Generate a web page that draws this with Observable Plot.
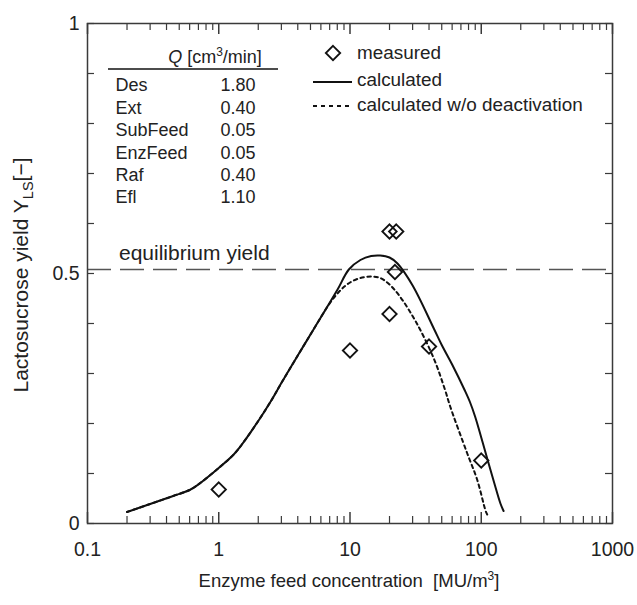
<!DOCTYPE html>
<html><head><meta charset="utf-8">
<script src="https://cdn.jsdelivr.net/npm/d3@7"></script>
<script src="https://cdn.jsdelivr.net/npm/@observablehq/plot@0.6"></script>
<style>body{margin:0;background:#fff;}</style>
</head><body><div id="chart"></div>
<script>
// ---- data ----
const measuredX = [1, 10, 20, 22, 20, 22.5, 40, 100];
const measuredY = [0.068, 0.346, 0.419, 0.503, 0.584, 0.584, 0.354, 0.126];

const calcX = [0.2, 0.3, 0.45, 0.6, 0.69, 1.0, 1.3, 1.5, 2.0, 2.5, 3.0, 4.0, 5.3, 8.0, 9.8, 12, 14.5, 17, 20, 23, 30, 43.5, 50, 60, 75, 82, 90, 100, 111, 125, 140, 148];
const calcY = [0.023, 0.039, 0.055, 0.067, 0.077, 0.111, 0.138, 0.158, 0.205, 0.245, 0.281, 0.336, 0.389, 0.467, 0.508, 0.527, 0.535, 0.536, 0.532, 0.520, 0.476, 0.390, 0.357, 0.318, 0.266, 0.243, 0.213, 0.172, 0.130, 0.083, 0.040, 0.025];

const noDeactX = [0.2, 0.3, 0.45, 0.6, 0.69, 1.0, 1.3, 1.5, 2.0, 2.5, 3.0, 4.0, 5.3, 7.0, 8.5, 10, 12, 14.5, 17, 20, 24, 32, 43.5, 53, 58, 78, 93, 108, 111];
const noDeactY = [0.023, 0.039, 0.055, 0.067, 0.077, 0.111, 0.138, 0.158, 0.205, 0.245, 0.281, 0.336, 0.389, 0.440, 0.467, 0.482, 0.491, 0.494, 0.491, 0.478, 0.454, 0.402, 0.330, 0.267, 0.234, 0.141, 0.088, 0.025, 0.018];

const equilibriumYield = 0.508;

const xTickLabels = [0.1, 1, 10, 100, 1000];
const yTickLabels = [0, 0.5, 1];
const yMinorTicks = [0, 0.1, 0.2, 0.3, 0.4, 0.5, 0.6, 0.7, 0.8, 0.9, 1];
const xMinorMultipliers = [2, 3, 4, 5, 6, 7, 8, 9];

const tableNames = ["Des", "Ext", "SubFeed", "EnzFeed", "Raf", "Efl"];
const tableQ = ["1.80", "0.40", "0.05", "0.05", "0.40", "1.10"];

const legendLabels = ["measured", "calculated", "calculated w/o deactivation"];

// ---- build ----
const W = 637, H = 605;
const mL = 87, mR = 25, mT = 23, mB = 82;
const iw = W - mL - mR, ih = H - mT - mB;
const FONT = "'Liberation Sans', Arial, Helvetica, sans-serif";
const INK = "#222";
const AX = "#3a3a3a";

const measured = measuredX.map((x, i) => ({x, y: measuredY[i]}));
const calc = calcX.map((x, i) => ({x, y: calcY[i]}));
const noDeact = noDeactX.map((x, i) => ({x, y: noDeactY[i]}));
const xMinor = xTickLabels.slice(0, -1).flatMap(d => xMinorMultipliers.map(m => d * m));

const majLen = 11, minLen = 7;

const svg = Plot.plot({
  width: W, height: H,
  marginLeft: mL, marginRight: mR, marginTop: mT, marginBottom: mB,
  style: {fontFamily: FONT, color: INK, background: "#fff"},
  x: {type: "log", domain: [0.1, 1000]},
  y: {domain: [0, 1]},
  marks: [
    Plot.tickX(xTickLabels, {x: d => d, insetTop: ih - majLen, stroke: AX, strokeWidth: 1.5}),
    Plot.tickX(xTickLabels, {x: d => d, insetBottom: ih - majLen, stroke: AX, strokeWidth: 1.5}),
    Plot.tickX(xMinor, {x: d => d, insetTop: ih - minLen, stroke: AX, strokeWidth: 1.2}),
    Plot.tickX(xMinor, {x: d => d, insetBottom: ih - minLen, stroke: AX, strokeWidth: 1.2}),
    Plot.tickY(yMinorTicks, {y: d => d, insetRight: iw - minLen, stroke: AX, strokeWidth: 1.2}),
    Plot.tickY(yMinorTicks, {y: d => d, insetLeft: iw - minLen, stroke: AX, strokeWidth: 1.2}),
    Plot.axisX({ticks: xTickLabels, tickSize: 0, tickPadding: 19, tickFormat: d => String(d), label: null, fontSize: 19.5}),
    Plot.axisY({ticks: yTickLabels, tickSize: 0, tickPadding: 8, tickFormat: d => String(d), label: null, fontSize: 19.5}),
    Plot.ruleY([equilibriumYield], {stroke: "#555", strokeWidth: 1.5, strokeDasharray: "24,9"}),
    Plot.line(calc, {x: "x", y: "y", curve: "catmull-rom", stroke: "#111", strokeWidth: 2}),
    Plot.line(noDeact, {x: "x", y: "y", curve: "catmull-rom", stroke: "#111", strokeWidth: 2, strokeDasharray: "3.5,3.5"}),
    Plot.dot(measured, {x: "x", y: "y", symbol: "diamond2", r: 6.5, stroke: "#111", strokeWidth: 1.8, fill: "none"}),
    Plot.text([tableNames.join("\n")], {text: d => d, frameAnchor: "top-left", dx: 28, dy: 52, textAnchor: "start", lineAnchor: "top", lineHeight: 1.245, fontSize: 18, fill: INK}),
    Plot.text([tableQ.join("\n")], {text: d => d, frameAnchor: "top-left", dx: 168, dy: 52, textAnchor: "end", lineAnchor: "top", lineHeight: 1.245, fontSize: 18, fill: INK}),
    Plot.frame({stroke: AX, strokeWidth: 1.5})
  ]
});

const s = d3.select(svg);
const g = s.append("g").attr("font-family", FONT).attr("fill", INK).attr("text-anchor", "start");

// table header
const hdr = g.append("text").attr("x", 215).attr("y", 63).attr("text-anchor", "middle").attr("font-size", 18);
hdr.append("tspan").attr("font-style", "italic").text("Q");
hdr.append("tspan").text(" [cm");
hdr.append("tspan").attr("font-size", 12).attr("dy", -7).text("3");
hdr.append("tspan").attr("dy", 7).text("/min]");
g.append("line").attr("x1", 108).attr("x2", 278).attr("y1", 69).attr("y2", 69).attr("stroke", "#111").attr("stroke-width", 1.5);

// equilibrium label
g.append("text").attr("x", 119).attr("y", 260).attr("text-anchor", "start").attr("font-size", 21).text("equilibrium yield");

// legend
const dsym = d3.symbol(d3.symbolDiamond2, 6.5 * 6.5 * Math.PI)();
g.append("path").attr("d", dsym).attr("transform", "translate(333,53)").attr("fill", "none").attr("stroke", "#111").attr("stroke-width", 1.8);
g.append("text").attr("x", 357).attr("y", 59).attr("text-anchor", "start").attr("font-size", 18.9).text(legendLabels[0]);
g.append("line").attr("x1", 313).attr("x2", 352).attr("y1", 82).attr("y2", 82).attr("stroke", "#111").attr("stroke-width", 2);
g.append("text").attr("x", 357).attr("y", 86).attr("text-anchor", "start").attr("font-size", 18.9).text(legendLabels[1]);
g.append("line").attr("x1", 313).attr("x2", 352).attr("y1", 106).attr("y2", 106).attr("stroke", "#111").attr("stroke-width", 2).attr("stroke-dasharray", "4,4");
g.append("text").attr("x", 357).attr("y", 111).attr("text-anchor", "start").attr("font-size", 18.9).text(legendLabels[2]);

// axis titles
const xt = g.append("text").attr("x", 349).attr("y", 587).attr("text-anchor", "middle").attr("font-size", 18.5);
xt.append("tspan").text("Enzyme feed concentration\u00a0 [MU/m");
xt.append("tspan").attr("font-size", 12).attr("dy", -7).text("3");
xt.append("tspan").attr("dy", 7).text("]");

const yt = g.append("text").attr("transform", "translate(28,275) rotate(-90)").attr("text-anchor", "middle").attr("font-size", 21);
yt.append("tspan").text("Lactosucrose yield Y");
yt.append("tspan").attr("font-size", 14.5).attr("dy", 5).text("LS");
yt.append("tspan").attr("dy", -5).text("[\u2212]");

document.getElementById("chart").appendChild(svg);
</script>
</body></html>
